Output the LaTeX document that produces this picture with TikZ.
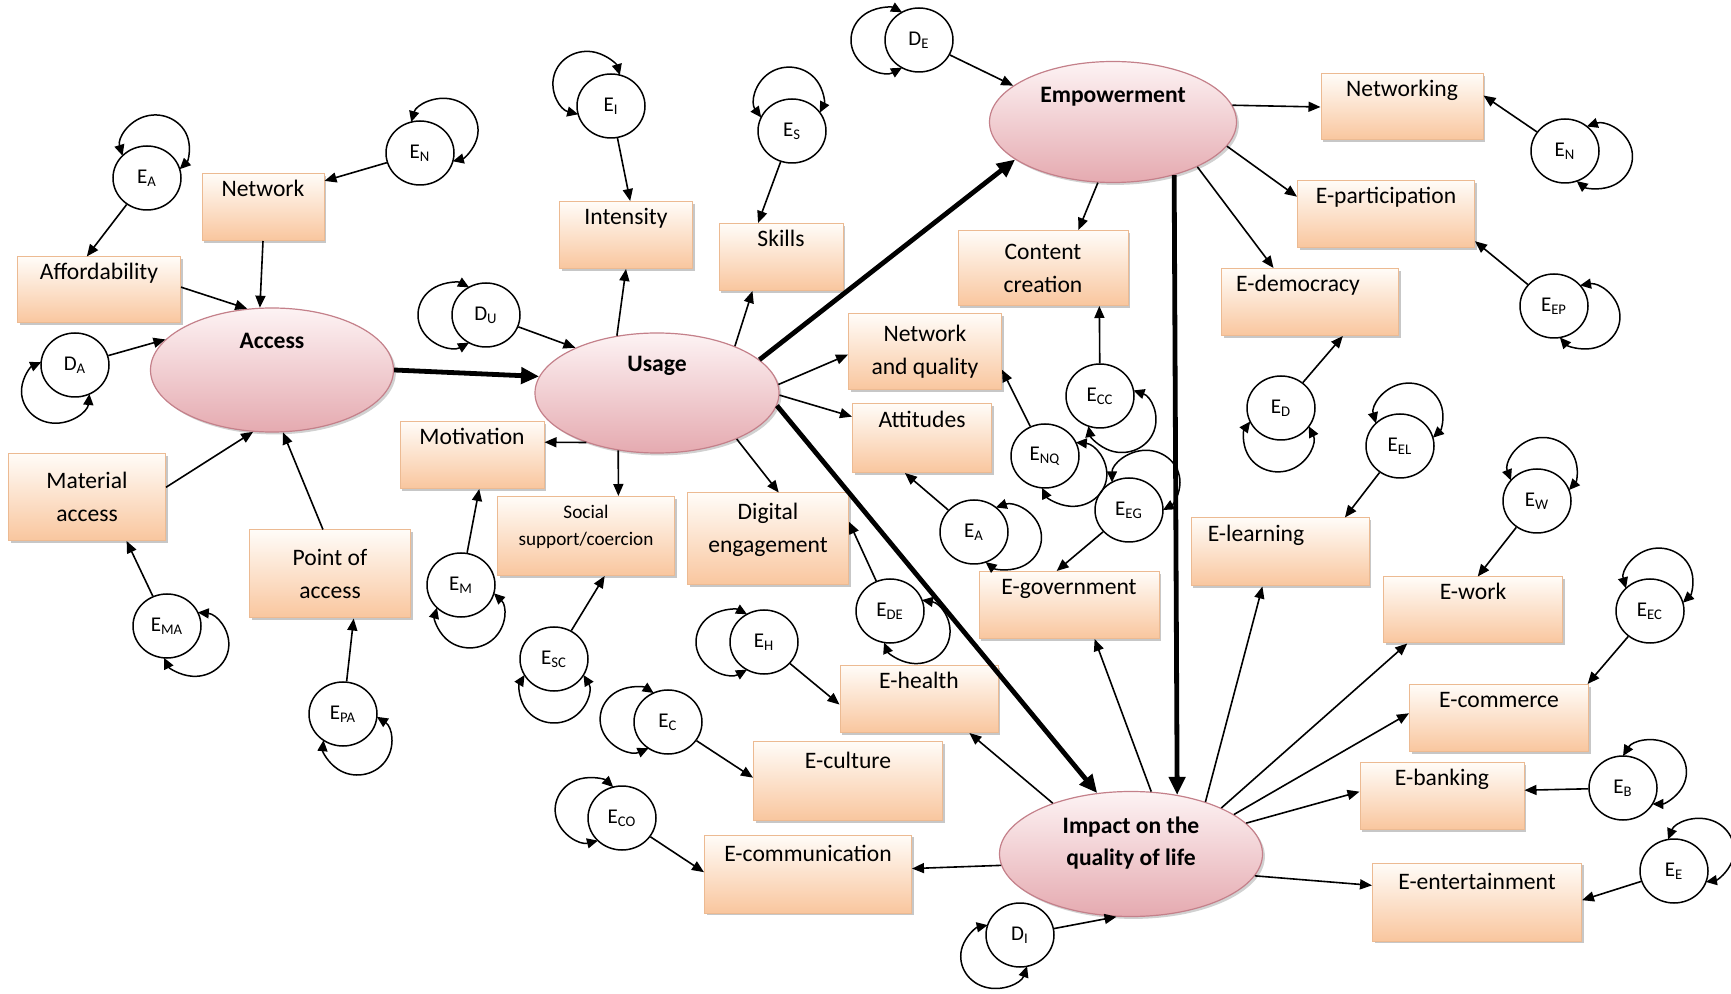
\documentclass[tikz,border=0pt]{standalone}
\usepackage{fontspec}
\setmainfont{Carlito}
\usetikzlibrary{arrows.meta,shapes.geometric,calc,shadows}
\definecolor{boxtop}{RGB}{255,252,248}
\definecolor{boxbot}{RGB}{249,198,158}
\definecolor{boxline}{RGB}{236,186,146}
\definecolor{lattop}{RGB}{253,243,244}
\definecolor{latbot}{RGB}{229,170,176}
\definecolor{latline}{RGB}{196,128,138}
\tikzset{
  box/.style={rectangle, draw=boxline, line width=0.5pt, top color=boxtop, bottom color=boxbot,
    drop shadow={shadow xshift=1.2pt, shadow yshift=-1.2pt, fill=black, opacity=0.22},
    align=center, inner sep=0pt, font=\fontsize{11.8}{16.5}\selectfont},
  wh/.style 2 args={minimum width=#1*0.5pt, minimum height=#2*0.5pt},
  lat/.style={ellipse, draw=latline, line width=0.6pt, top color=lattop, bottom color=latbot,
    drop shadow={shadow xshift=1.2pt, shadow yshift=-1.2pt, fill=black, opacity=0.18},
    align=center, inner sep=0pt, font=\bfseries\fontsize{11.8}{16}\selectfont},
  err/.style={ellipse, draw=black, line width=0.75pt, fill=white, minimum width=34pt,
    minimum height=32pt, inner sep=0pt, font=\fontsize{10.5}{12}\selectfont},
  arr/.style={-{Triangle[length=6pt,width=5pt]}, line width=0.8pt},
  thk/.style={-{Triangle[length=9pt,width=8pt]}, line width=2.4pt},
  looparr/.style={{Triangle[length=5.5pt,width=5pt]}-{Triangle[length=5.5pt,width=5pt]}, line width=0.75pt},
}
\newcommand{\eloop}[2]{\draw[looparr] ($(#1)+(#2:34 and 32)+(#2-120:34 and 32)$) arc[start angle=#2-120, delta angle=240, x radius=34, y radius=32];}
\begin{document}
\begin{tikzpicture}[x=0.5pt,y=-0.5pt]
\fill[white] (0,0) rectangle (1731,994);
\useasboundingbox (0,0) rectangle (1731,994);

% latent variables
\node[lat, wh={243}{124}] (acc) at (272,370) {Access\\[8.5pt]\strut};
\node[lat, wh={244}{120}] (usg) at (657,393) {Usage\\[8.5pt]\strut};
\node[lat, wh={247}{121}] (emp) at (1113,122) {Empowerment\\[6pt]\strut};
\node[lat, wh={263}{125}] (imp) at (1131,854) {Impact on the\\quality of life\\[-8pt]\strut};

% indicator boxes
\node[box, wh={122}{67}] (net) at (263,207) {Network\\[-3pt]\strut};
\node[box, wh={163}{66}] (aff) at (99,290) {Affordability\\[-3pt]\strut};
\node[box, wh={157}{87}] (ma) at (87,497) {Material\\access};
\node[box, wh={161}{88}] (pa) at (330,574) {Point of\\access};
\node[box, wh={144}{67}] (mot) at (472,455) {Motivation\\[-3pt]\strut};
\node[box, wh={177}{79}, font=\fontsize{9.6}{13.5}\selectfont] (ssc) at (586,536) {Social\\support/coercion\\[-7pt]\strut};
\node[box, wh={133}{67}] (int) at (626,235) {Intensity\\[-3pt]\strut};
\node[box, wh={124}{67}] (skl) at (781,257) {Skills\\[-3pt]\strut};
\node[box, wh={153}{76}] (nq) at (925,352) {Network\\and quality};
\node[box, wh={139}{69}] (att) at (922,438) {Attitudes\\[-3pt]\strut};
\node[box, wh={161}{92}] (de) at (768,539) {Digital\\engagement\\[-10pt]\strut};
\node[box, wh={170}{75}] (cc) at (1043,268) {Content\\creation};
\node[box, wh={180}{67}] (egov) at (1069,605) {E-government\\[-3pt]\strut};
\node[box, wh={158}{67}] (ehl) at (919,699) {E-health\\[-3pt]\strut};
\node[box, wh={189}{79}] (ecu) at (848,781) {E-culture\\[-1pt]\strut};
\node[box, wh={207}{78}] (eco) at (808,874) {E-communication\\[-1pt]\strut};
\node[box, wh={162}{66}] (ntw) at (1402,107) {Networking\\[-3pt]\strut};
\node[box, wh={177}{67}] (epa) at (1386,214) {E-participation\\[-3pt]\strut};
\node[box, wh={177}{67}] (edm) at (1310,302) {E-democracy\hspace*{12pt}\\[-3pt]\strut};
\node[box, wh={178}{68}] (elr) at (1280,552) {E-learning\hspace*{24pt}\\[-3pt]\strut};
\node[box, wh={179}{66}] (ewk) at (1473,610) {E-work\\[-3pt]\strut};
\node[box, wh={179}{67}] (ecm) at (1499,718) {E-commerce\\[-3pt]\strut};
\node[box, wh={164}{67}] (ebk) at (1442,796) {E-banking\\[-3pt]\strut};
\node[box, wh={209}{78}] (eet) at (1477,902) {E-entertainment\\[-1pt]\strut};

% error / disturbance terms
\node[err] (EA1) at (147,178) {E\textsubscript{A}};
\node[err] (EN1) at (420,153) {E\textsubscript{N}};
\node[err] (DA) at (75,365) {D\textsubscript{A}};
\node[err] (EMA) at (167,626) {E\textsubscript{MA}};
\node[err] (EPA) at (343,714) {E\textsubscript{PA}};
\node[err] (EM) at (461,585) {E\textsubscript{M}};
\node[err] (ESC) at (554,659) {E\textsubscript{SC}};
\node[err] (EI) at (611,106) {E\textsubscript{I}};
\node[err] (ES) at (792,131) {E\textsubscript{S}};
\node[err] (DU) at (486,315) {D\textsubscript{U}};
\node[err] (DE) at (919,40) {D\textsubscript{E}};
\node[err] (EN2) at (1565,151) {E\textsubscript{N}};
\node[err] (EEP) at (1554,306) {E\textsubscript{EP}};
\node[err] (ED) at (1281,408) {E\textsubscript{D}};
\node[err] (EEL) at (1400,446) {E\textsubscript{EL}};
\node[err] (ECC) at (1100,396) {E\textsubscript{CC}};
\node[err] (ENQ) at (1045,456) {E\textsubscript{NQ}};
\node[err] (EEG) at (1129,510) {E\textsubscript{EG}};
\node[err] (EA2) at (974,532) {E\textsubscript{A}};
\node[err] (EDE) at (890,611) {E\textsubscript{DE}};
\node[err] (EH) at (764,642) {E\textsubscript{H}};
\node[err] (EC) at (668,722) {E\textsubscript{C}};
\node[err] (ECO) at (622,818) {E\textsubscript{CO}};
\node[err] (EW) at (1537,501) {E\textsubscript{W}};
\node[err] (EEC) at (1650,611) {E\textsubscript{EC}};
\node[err] (EB) at (1623,788) {E\textsubscript{B}};
\node[err] (EE) at (1674,871) {E\textsubscript{E}};
\node[err] (DI) at (1020,935) {D\textsubscript{I}};

% self loops
\eloop{EA1}{-76}
\eloop{EN1}{-45}
\eloop{DA}{125}
\eloop{EMA}{35}
\eloop{EPA}{65}
\eloop{EM}{75}
\eloop{ESC}{90}
\eloop{EI}{-135}
\eloop{ES}{-95}
\eloop{DU}{180}
\eloop{DE}{180}
\eloop{EN2}{10}
\eloop{EEP}{20}
\eloop{ED}{95}
\eloop{EEL}{-75}
\eloop{ECC}{50}
\eloop{ENQ}{35}
\eloop{EEG}{-60}
\eloop{EA2}{10}
\eloop{EDE}{40}
\eloop{EH}{180}
\eloop{EC}{185}
\eloop{ECO}{195}
\eloop{EW}{-80}
\eloop{EEC}{-75}
\eloop{EB}{-30}
\eloop{EE}{-40}
\eloop{DI}{138}

% structural paths
\draw[thk] (acc.east) -- (usg.172);
\draw[thk] (usg.18) -- (emp.201);
\draw[thk] (usg.-6) -- (imp.119);
\draw[thk] (emp.-41) -- (imp.52);

% access
\draw[arr] (aff.2) -- (acc.112);
\draw[arr] (net.south) -- (acc.101);
\draw[arr] (DA) -- (acc.164);
\draw[arr] (ma.7) -- (acc.253);
\draw[arr] (pa.99) -- (acc.-80);
\draw[arr] (EA1) -- (aff.110);
\draw[arr] (EN1) -- (net.23);
\draw[arr] (EMA) -- (ma.-48);
\draw[arr] (EPA) -- (pa.-62);

% usage
\draw[arr] (DU) -- (usg.151);
\draw[arr] (usg.125) -- (int.south);
\draw[arr] (usg.31) -- (skl.-130);
\draw[arr] (usg.4) -- (nq.182);
\draw[arr] (usg.-1) -- (att.163);
\draw[arr] (usg.-30) -- (de.77);
\draw[arr] (usg.-124) -- (ssc.51);
\draw[arr] (usg.215) -- (mot.10);
\draw[arr] (EI) -- (int.83);
\draw[arr] (ES) -- (skl.124);
\draw[arr] (EM) -- (mot.-78);
\draw[arr] (ESC) -- (ssc.-65);
\draw[arr] (ENQ) -- (nq.-13);
\draw[arr] (EA2) -- (att.-116);
\draw[arr] (EDE) -- (de.12);

% empowerment
\draw[arr] (DE) -- (emp.160);
\draw[arr] (emp.8) -- (ntw.west);
\draw[arr] (emp.-12) -- (epa.169);
\draw[arr] (emp.-28) -- (edm.137);
\draw[arr] (emp.-104) -- (cc.47);
\draw[arr] (EN2) -- (ntw.8);
\draw[arr] (EEP) -- (epa.-17);
\draw[arr] (ED) -- (edm.-46);
\draw[arr] (ECC) -- (cc.-34);

% impact
\draw[arr] (imp.185) -- (eco.3);
\draw[arr] (imp.147) -- (ehl.-34);
\draw[arr] (imp.72) -- (egov.-53);
\draw[arr] (imp.35) -- (elr.-117);
\draw[arr] (imp.27) -- (ewk.-153);
\draw[arr] (imp.21) -- (ecm.177);
\draw[arr] (imp.15) -- (ebk.177);
\draw[arr] (imp.-10) -- (eet.171);
\draw[arr] (DI) -- (imp.-103);
\draw[arr] (EEG) -- (egov.110);
\draw[arr] (EEL) -- (elr.28);
\draw[arr] (EH) -- (ehl.184);
\draw[arr] (EC) -- (ecu.178);
\draw[arr] (ECO) -- (eco.179);
\draw[arr] (EW) -- (ewk.82);
\draw[arr] (EEC) -- (ecm.21);
\draw[arr] (EB) -- (ebk.4);
\draw[arr] (EE) -- (eet.1);
\end{tikzpicture}
\end{document}
